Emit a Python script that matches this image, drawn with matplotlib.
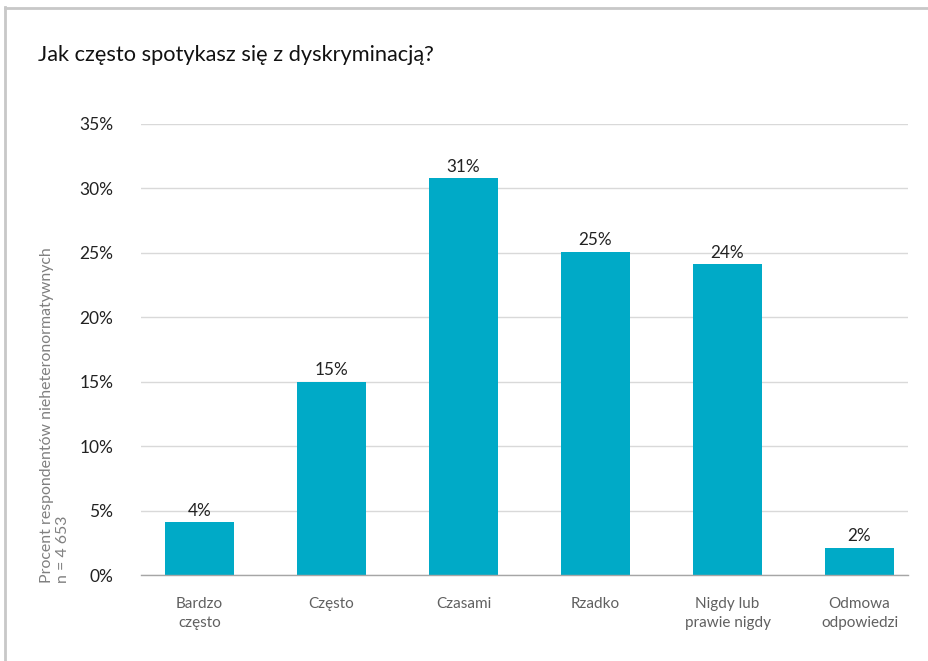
import matplotlib
matplotlib.use("Agg")
import matplotlib.pyplot as plt
from matplotlib.lines import Line2D

categories = ["Bardzo\nczęsto", "Często", "Czasami", "Rzadko", "Nigdy lub\nprawie nigdy", "Odmowa\nodpowiedzi"]
values = [4.1, 15.0, 30.8, 25.1, 24.1, 2.1]
labels = ["4%", "15%", "31%", "25%", "24%", "2%"]
yticks = [0, 5, 10, 15, 20, 25, 30, 35]
title = "Jak często spotykasz się z dyskryminacją?"
ylabel = "Procent respondentów nieheteronormatywnych\nn = 4 653"

plt.rcParams['font.family'] = ['Lato', 'DejaVu Sans']

fig = plt.figure(figsize=(9.29, 6.61), dpi=100)
ax = fig.add_axes([141/929, 1-575/661, (908-141)/929, (575-124)/661])

x = list(range(len(categories)))
bars = ax.bar(x, values, width=0.523, color="#00AAC7", zorder=3)
for xi, v, lab in zip(x, values, labels):
    ax.annotate(lab, (xi, v), xytext=(0, 2.5), textcoords="offset points",
                ha="center", va="bottom", fontsize=12.3, color="#222222")

ax.set_ylim(0, 35)
ax.set_xlim(-0.443, 5.367)
ax.set_yticks(yticks)
ax.set_yticklabels([f"{t}%" for t in yticks], fontsize=12.5, color="#222222")
ax.set_xticks(x)
ax.set_xticklabels(categories, fontsize=11, color="#606060", linespacing=1.45)
ax.tick_params(axis="y", length=0, pad=20)
ax.tick_params(axis="x", length=0, pad=16)
ax.grid(axis="y", color="#d9d9d9", linewidth=1, zorder=0)
for s in ["top", "right", "left"]:
    ax.spines[s].set_visible(False)
ax.spines["bottom"].set_color("#a6a6a6")
ax.spines["bottom"].set_linewidth(1)
ax.spines["bottom"].set_zorder(4)

fig.text(38/929, 1-55/661, title, fontsize=15.7, color="#111111", ha="left", va="center")
fig.text(55/929, 1-583/661, ylabel, rotation=90, fontsize=11.4, color="#808080",
         ha="center", va="bottom", multialignment="left", linespacing=1.25)

fig.add_artist(Line2D([5.5/929, 5.5/929], [0, 1-7/661], transform=fig.transFigure, color="#c8c8c8", linewidth=2))
fig.add_artist(Line2D([5.5/929, 1], [1-7.5/661, 1-7.5/661], transform=fig.transFigure, color="#c8c8c8", linewidth=2))

fig.savefig("out.png", dpi=100)
